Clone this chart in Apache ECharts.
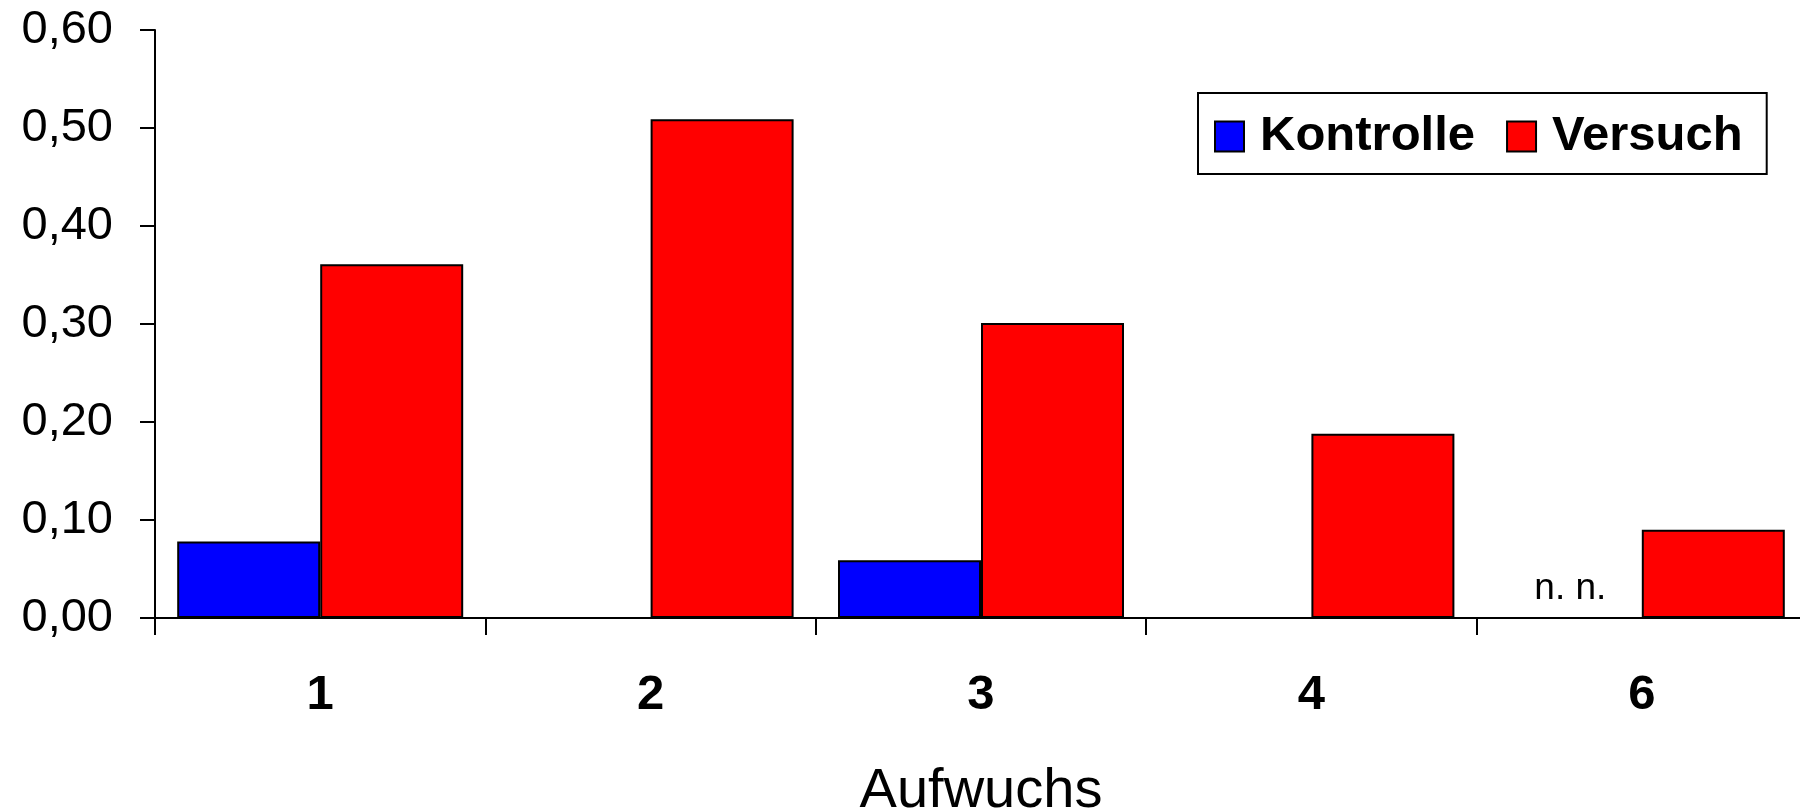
<!DOCTYPE html>
<html>
<head>
<meta charset="utf-8">
<script src="https://cdn.jsdelivr.net/npm/echarts@6/dist/echarts.min.js"></script>
<style>
  html, body { margin: 0; padding: 0; background: #fff; }
  #chart { width: 1800px; height: 812px; }
</style>
</head>
<body>
<div id="chart"></div>
<script>
// ---- data ----
const categories = ['1', '2', '3', '4', '6'];
const seriesNames = ['Kontrolle', 'Versuch'];
const kontrolle = [0.078, null, 0.059, null, 0];   // 0 at "6" = not detected
const versuch = [0.361, 0.509, 0.301, 0.188, 0.09];
const notDetectedIndex = 4;
const notDetectedText = 'n. n.';
const axisTitle = 'Aufwuchs';
const yMin = 0, yMax = 0.6, yStep = 0.1;

// ---- chart ----
const chart = echarts.init(document.getElementById('chart'), null, { renderer: 'canvas' });
const FONT = "'Liberation Sans', Arial, sans-serif";

const kontrolleData = kontrolle.map((v, i) => {
  if (i === notDetectedIndex) {
    return {
      value: v,
      label: {
        show: true, position: 'top', distance: 10,
        formatter: notDetectedText,
        fontFamily: FONT, fontSize: 37, color: '#000'
      }
    };
  }
  return v === null ? '-' : v;
});

chart.setOption({
  animation: false,
  backgroundColor: '#fff',
  textStyle: { fontFamily: FONT },
  grid: {
    left: 155, top: 30, width: 1652, height: 588,
    containLabel: false, outerBoundsMode: 'none'
  },
  legend: {
    left: 1198, top: 93,
    orient: 'horizontal',
    data: seriesNames,
    itemWidth: 29, itemHeight: 30, itemGap: 31,
    icon: 'rect',
    backgroundColor: '#fff',
    borderColor: '#000', borderWidth: 2,
    padding: [19, 24, 13, 16],
    textStyle: {
      fontFamily: FONT,
      fontWeight: 'bold', fontSize: 49, color: '#000',
      padding: [4, 0, 0, 11]
    },
    itemStyle: { borderColor: '#000', borderWidth: 2 }
  },
  xAxis: {
    type: 'category',
    data: categories,
    boundaryGap: true,
    name: axisTitle,
    nameLocation: 'middle',
    nameGap: 146,
    nameTextStyle: { fontFamily: FONT, fontSize: 56, color: '#000' },
    axisLine: { show: true, lineStyle: { color: '#000', width: 2 } },
    axisTick: { show: true, alignWithLabel: false, length: 17, lineStyle: { color: '#000', width: 2 } },
    axisLabel: { fontFamily: FONT, fontWeight: 'bold', fontSize: 49, color: '#000', margin: 53 },
    splitLine: { show: false }
  },
  yAxis: {
    type: 'value',
    min: yMin, max: yMax, interval: yStep,
    axisLine: { show: true, lineStyle: { color: '#000', width: 2 } },
    axisTick: { show: true, inside: false, length: 15, lineStyle: { color: '#000', width: 2 } },
    axisLabel: {
      fontFamily: FONT, fontSize: 47, color: '#000', margin: 42,
      formatter: v => v.toFixed(2).replace('.', ',')
    },
    splitLine: { show: false }
  },
  series: [
    {
      name: seriesNames[0], type: 'bar',
      data: kontrolleData,
      barWidth: 143, barGap: '0%',
      itemStyle: { color: '#0000FF', borderColor: '#000', borderWidth: 2 }
    },
    {
      name: seriesNames[1], type: 'bar',
      data: versuch,
      barWidth: 143, barGap: '0%',
      itemStyle: { color: '#FF0000', borderColor: '#000', borderWidth: 2 }
    }
  ]
});
</script>
</body>
</html>
